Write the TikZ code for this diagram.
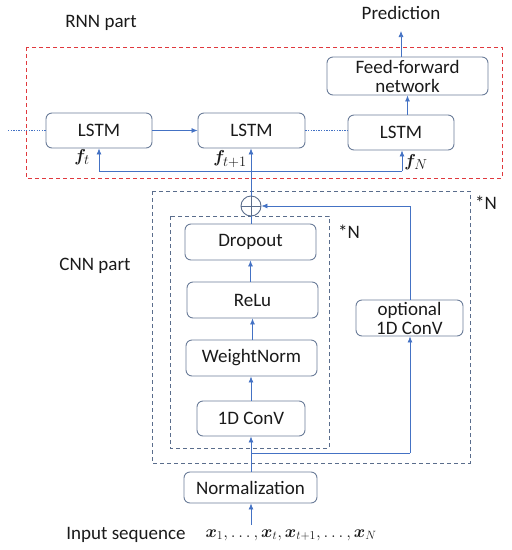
\documentclass[tikz,border=0pt]{standalone}
\usepackage{amsmath,bm}
\usepackage[no-math]{fontspec}
\setmainfont{Carlito}
\usetikzlibrary{arrows.meta}
\definecolor{redd}{HTML}{E0393E}
\definecolor{slate}{HTML}{5A6D8C}
\definecolor{boxc}{HTML}{6B7D99}
\definecolor{arr}{HTML}{4472C4}
\definecolor{txt}{HTML}{1A1A1A}
\begin{document}
\begin{tikzpicture}[x=1pt,y=-1pt,
  every node/.style={text=txt, font=\fontsize{19}{22}\selectfont},
  blk/.style={draw=boxc, line width=0.9pt, rounded corners=6pt, align=center, inner sep=0pt},
  arw/.style={draw=arr, line width=0.7pt, -{Latex[length=6pt,width=5pt]}},
  ln/.style={draw=arr, line width=0.7pt},
  dotl/.style={draw=arr, line width=1.3pt, dash pattern=on 1.3pt off 1.3pt},
  reddash/.style={draw=redd, line width=1pt, dash pattern=on 4pt off 3pt},
  cnndash/.style={draw=slate, line width=0.9pt, dash pattern=on 4pt off 3pt},
  lab/.style={inner sep=0pt}]
\useasboundingbox (0,0) rectangle (512,550);
% frames
\draw[reddash] (26,47) rectangle (502,178);
\draw[cnndash] (152,191) rectangle (470,463);
\draw[cnndash] (170,216) rectangle (329,448);
% labels
\node[lab] (rnnlab) at (101,23) {RNN part};
\node[lab] (pred) at (401,13) {Prediction};
\node[lab] (cnnlab) at (95,266) {CNN part};
\node[lab] (n1) at (486,203) {*N};
\node[lab] (n2) at (349,232) {*N};
\node[lab] (inp) at (126,535) {Input sequence};
\node[lab, font=\fontsize{18}{22}\selectfont] (xs) at (291,535) {$\bm{x}_1,\dots,\bm{x}_t,\bm{x}_{t+1},\dots,\bm{x}_N$};
% RNN blocks
\node[blk, minimum width=106pt, minimum height=35pt] (l1) at (99,130.5) {LSTM};
\node[blk, minimum width=107pt, minimum height=35pt] (l2) at (251.5,130.5) {LSTM};
\node[blk, minimum width=106pt, minimum height=35pt] (l3) at (401,132.5) {LSTM};
\node[blk, minimum width=161pt, minimum height=38pt, font=\fontsize{19}{19}\selectfont] (ffn) at (407.5,76) {Feed-forward\\network};
\node[lab] (ft) at (82,157) {$\bm{f}_t$};
\node[lab] (ft1) at (230,159) {$\bm{f}_{t+1}$};
\node[lab] (fn) at (416,162) {$\bm{f}_N$};
% CNN blocks
\node[blk, minimum width=131pt, minimum height=36pt] (drop) at (250.5,242) {Dropout};
\node[blk, minimum width=131pt, minimum height=36pt] (relu) at (252.5,300) {ReLu};
\node[blk, minimum width=131pt, minimum height=36pt] (wn) at (251.5,358) {WeightNorm};
\node[blk, minimum width=108pt, minimum height=35pt] (conv) at (251,418.5) {1D ConV};
\node[blk, minimum width=107pt, minimum height=36pt, font=\fontsize{19}{19}\selectfont] (opt) at (409.5,318) {optional\\1D ConV};
\node[blk, minimum width=133pt, minimum height=31pt] (norm) at (250.5,487.5) {Normalization};
\node[draw=slate, line width=0.9pt, circle, minimum size=20pt, inner sep=0pt] (plus) at (251,206) {};
\draw[slate, line width=0.9pt] (plus.north) -- (plus.south) (plus.west) -- (plus.east);
% coordinates
\coordinate (lft) at (8,130.5);
\coordinate (predtip) at (401,31);
\coordinate (b1) at (99,171);
\coordinate (b3) at (402,171);
\coordinate (b2) at (251,171);
\coordinate (inb) at (251,525);
\coordinate (br) at (251,453);
\coordinate (brr) at (410,453);
\coordinate (optt) at (410,206);
% RNN connectors
\draw[dotl] (lft) -- (l1.west);
\draw[arw] (l1.east) -- (l2.west);
\draw[dotl] (l2.east) -- (l3.west |- l2.east);
\draw[arw] (l3.north -| ffn.south) -- (ffn.south);
\draw[arw] (ffn.north -| predtip) -- (predtip);
\draw[ln] (b1) -- (b3);
\draw[arw] (b1) -- (l1.south);
\draw[arw] (b3) -- (l3.south -| b3);
\draw[arw] (plus.north) -- (l2.south -| plus.north);
% CNN connectors
\draw[ln] (drop.north -| plus.south) -- (plus.south);
\draw[arw] (relu.north -| drop.south) -- (drop.south);
\draw[arw] (wn.north -| relu.south) -- (relu.south);
\draw[arw] (conv.north) -- (wn.south -| conv.north);
\draw[arw] (norm.north -| conv.south) -- (conv.south);
\draw[ln] (br) -- (brr);
\draw[arw] (brr) -- (opt.south -| brr);
\draw[ln] (opt.north -| optt) -- (optt);
\draw[arw] (optt) -- (plus.east);
\draw[arw] (inb) -- (norm.south -| inb);
\end{tikzpicture}
\end{document}
